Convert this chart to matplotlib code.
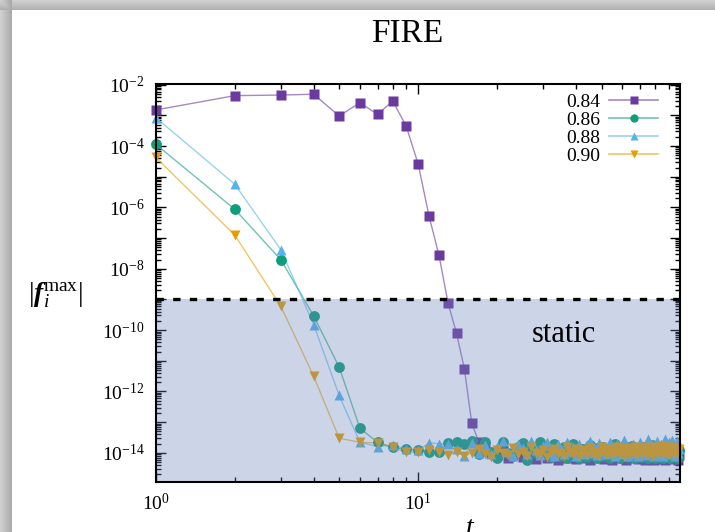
import numpy as np
import matplotlib
matplotlib.use("Agg")
import matplotlib.pyplot as plt
from matplotlib.ticker import FixedLocator, FuncFormatter, NullFormatter
from matplotlib.lines import Line2D
from matplotlib.legend_handler import HandlerTuple

plt.rcParams.update({
    "font.family": "Liberation Serif",
    "mathtext.fontset": "custom",
    "mathtext.rm": "Liberation Serif",
    "mathtext.it": "Liberation Serif:italic",
    "mathtext.bf": "Liberation Serif:italic:bold",
})

# ---------------------------------------------------------------------------
# data: |f_i^max| vs step t (t = 1, 2, 3, ...)
# ---------------------------------------------------------------------------
labels = ["0.84", "0.86", "0.88", "0.90"]

f084_head = [1.5e-3, 4.4e-3, 4.6e-3, 4.9e-3, 9.5e-4, 2.6e-3, 1.07e-3, 2.95e-3,
             4.5e-4, 2.6e-5, 5.2e-7, 2.8e-8, 7.6e-10, 7.9e-11, 5.5e-12,
             9.3e-14, 2.3e-14]
f086_head = [1.15e-4, 8.7e-7, 1.95e-8, 2.9e-10, 6.2e-12, 6.3e-14, 2.2e-14,
             1.5e-14, 1.3e-14, 1.25e-14, 1.1e-14, 1.1e-14, 2.1e-14]
f088_head = [8.5e-4, 5.7e-6, 4.1e-8, 1.5e-10, 7.4e-13, 2.2e-14, 1.6e-14,
             1.8e-14, 1.35e-14, 1.2e-14, 2.1e-14, 2.0e-14]
f090_head = [4.3e-5, 1.26e-7, 5.9e-10, 3.1e-12, 3.0e-14, 2.2e-14, 2.1e-14,
             1.5e-14, 1.05e-14, 1.05e-14, 1.2e-14, 1.05e-14, 0.86e-14]

# noisy plateau, in units of 1e-14
f084_tail = [1.6, 1.0, 0.85, 1.2, 0.7, 0.9, 1.3, 0.75, 0.8, 1.1, 0.65, 0.9,
             1.4, 0.7, 0.8, 1.0, 0.6, 1.2, 0.85, 0.7, 1.5, 0.9, 0.65, 0.8,
             1.1, 0.7, 1.3, 0.6, 0.9, 0.75, 1.0, 1.4, 0.7, 0.65, 0.95, 1.2,
             0.8, 0.6, 1.1, 0.75, 0.9, 1.3, 0.7, 0.85, 0.6, 1.0, 1.5, 0.8,
             0.7, 0.9, 1.2, 0.65, 0.8, 1.1, 0.75, 0.6, 0.95, 1.3, 0.7, 0.85,
             1.0, 0.6, 0.8, 1.4, 0.7, 0.9, 0.65, 1.1, 0.8, 0.6, 1.2, 0.75,
             0.9, 0.7, 1.0, 0.65, 1.3, 0.8, 0.7, 0.9, 0.6, 0.85]
f086_tail = [2.2, 1.9, 2.4, 0.9, 2.3, 1.1, 0.7, 2.2, 1.0, 0.8, 1.6, 2.1, 0.6,
             1.3, 1.0, 2.3, 0.9, 1.2, 0.75, 1.9, 1.1, 0.8, 1.5, 0.7, 1.0,
             2.0, 0.9, 0.7, 1.3, 1.1, 0.75, 1.8, 0.9, 1.2, 0.7, 1.0, 1.6,
             0.8, 0.9, 1.3, 0.7, 1.1, 2.0, 0.8, 1.0, 0.7, 1.4, 0.9, 1.2,
             0.75, 1.0, 1.7, 0.8, 0.7, 1.1, 1.3, 0.9, 0.75, 1.5, 0.8, 1.0,
             0.7, 1.2, 0.9, 1.8, 0.8, 0.7, 1.1, 1.0, 0.75, 1.4, 0.9, 0.7,
             1.2, 1.0, 0.8, 1.6, 0.7, 0.9, 1.1, 0.75, 1.3, 0.8, 1.0, 0.7, 1.2]
f088_tail = [1.9, 1.3, 0.8, 2.1, 1.0, 1.8, 0.9, 1.5, 2.4, 1.1, 0.8, 2.0, 1.4,
             0.9, 2.5, 1.2, 0.85, 1.7, 2.2, 1.0, 0.8, 1.9, 1.3, 0.9, 2.3,
             1.1, 1.6, 0.8, 2.0, 1.2, 0.9, 1.8, 2.4, 1.0, 1.4, 0.85, 2.1,
             1.1, 1.7, 0.9, 1.3, 2.2, 1.0, 0.8, 1.9, 1.2, 1.5, 0.9, 2.6,
             1.1, 0.8, 1.6, 1.3, 2.0, 0.9, 1.2, 0.8, 2.3, 1.4, 1.0, 1.7,
             0.85, 2.8, 1.2, 1.0, 1.9, 0.8, 1.4, 2.5, 1.1, 0.9, 2.0, 1.3,
             0.8, 2.9, 1.5, 1.0, 2.2, 0.9, 1.2, 2.7, 1.1, 0.8, 1.6, 2.4, 1.0, 1.3]
f090_tail = [1.1, 0.8, 1.0, 1.3, 0.9, 0.75, 1.2, 1.0, 0.85, 1.4, 0.9, 1.1,
             0.8, 1.5, 1.0, 0.9, 1.2, 0.75, 1.1, 1.3, 0.9, 1.0, 0.8, 1.6,
             1.1, 0.9, 1.3, 0.8, 1.0, 1.2, 0.85, 1.4, 1.0, 0.9, 1.1, 0.8,
             1.5, 1.2, 0.9, 1.0, 1.3, 0.85, 1.1, 1.6, 0.9, 1.0, 1.2, 0.8,
             1.4, 1.1, 0.9, 1.3, 1.0, 1.5, 0.85, 1.1, 1.2, 0.9, 1.4, 1.0,
             1.6, 0.9, 1.1, 1.3, 0.8, 1.2, 1.5, 1.0, 0.9, 1.4, 1.1, 1.7,
             0.9, 1.2, 1.0, 1.5, 0.85, 1.3, 1.1, 1.6, 0.9, 1.2, 1.4, 1.0, 1.1, 1.3]

static_thr = 1e-9

colors = ["#6b3a9e", "#109e7a", "#56b4e9", "#e69f00"]
markers = ["s", "o", "^", "v"]


def _series(head, tail):
    y = np.array(list(head) + [v * 1e-14 for v in tail])
    t = np.arange(1, len(y) + 1)
    return t, y


def _shadow(fig):
    # grey drop-shadow strip along the left and top edges
    h, w = 532, 715
    img = np.ones((h, w, 3))
    for i in range(12):
        img[:, i, :] = 0.82 - 0.014 * i
    for j in range(10):
        img[j, :, :] = np.minimum(img[j, :, :], 0.82 - 0.014 * j)
    bg = fig.add_axes([0, 0, 1, 1], zorder=-10)
    bg.imshow(img, aspect="auto", interpolation="bilinear")
    bg.set_axis_off()


def main():
    fig = plt.figure(figsize=(7.15, 5.32), dpi=100)
    _shadow(fig)
    ax = fig.add_axes([0.2178, 0.094, 0.7333, 0.748])
    ax.set_facecolor("white")

    data = [(f084_head, f084_tail), (f086_head, f086_tail),
            (f088_head, f088_tail), (f090_head, f090_tail)]
    handles = []
    for (head, tail), c, m in zip(data, colors, markers):
        t, y = _series(head, tail)
        ax.plot(t, y, "-", color=c, lw=1.0, alpha=0.6, zorder=2)
        ax.plot(t, y, ls="none", marker=m, ms=7.8, mec="none",
                color=c, zorder=3, clip_on=False)
        h1 = Line2D([], [], color=c, lw=1.2, alpha=0.6)
        h2 = Line2D([], [], ls="none", marker=m, ms=6, mec="none", color=c)
        handles.append((h1, h2))

    ax.set_xscale("log")
    ax.set_yscale("log")
    ax.set_xlim(1, 99.5)
    ax.set_ylim(1.12e-15, 1.05e-2)

    # static region: shaded over the data
    ax.axhspan(1e-16, static_thr, color="#6c84bc", alpha=0.34, lw=0, zorder=5)
    ax.axhline(static_thr, color="black", lw=2.4, ls=(0, (2.2, 2.8)), zorder=6)
    ax.text(36, 10 ** -10.15, "static", fontsize=22, ha="center", va="center",
            zorder=7)

    # ticks
    ax.xaxis.set_major_locator(FixedLocator([1, 10, 100]))
    ax.xaxis.set_minor_locator(FixedLocator(
        [k * d for d in (1, 10) for k in range(2, 10)]))
    ax.xaxis.set_major_formatter(FuncFormatter(
        lambda v, p: rf"$\mathregular{{10^{{{int(round(np.log10(v)))}}}}}$"))
    ax.xaxis.set_minor_formatter(NullFormatter())

    ax.yaxis.set_major_locator(FixedLocator([10.0 ** e for e in range(-15, -1)]))
    ax.yaxis.set_minor_locator(FixedLocator(
        [k * 10.0 ** e for e in range(-16, -1) for k in range(2, 10)]))

    def _yfmt(v, p):
        e = int(round(np.log10(v)))
        return rf"$\mathregular{{10^{{{e}}}}}$" if e % 2 == 0 else ""

    ax.yaxis.set_major_formatter(FuncFormatter(_yfmt))
    ax.yaxis.set_minor_formatter(NullFormatter())
    ax.tick_params(which="both", direction="in", top=True, right=True,
                   labelsize=14, width=1.0)
    ax.tick_params(which="major", length=7, pad=8)
    ax.tick_params(which="minor", length=3.5)
    for s in ax.spines.values():
        s.set_linewidth(1.5)
        s.set_zorder(10)

    leg = ax.legend(handles, labels, handler_map={tuple: HandlerTuple(ndivide=1)},
                    loc="upper right", bbox_to_anchor=(0.973, 0.997),
                    markerfirst=False, frameon=False, fontsize=14,
                    handlelength=2.5, handletextpad=0.5, labelspacing=0.03,
                    borderaxespad=0.0)
    leg.set_zorder(8)

    fig.text(407 / 715, 1 - 41.5 / 532, "FIRE", fontsize=24, ha="center",
             va="baseline")
    fig.text(55 / 715, 1 - 295 / 532, r"$|\mathbf{f}_i^{\mathrm{max}}|$",
             fontsize=20, ha="center", va="center")
    fig.text(470 / 715, 1 - 516 / 532, "t", fontsize=20, style="italic",
             ha="center", va="top")

    fig.savefig("out.png", dpi=100)
    plt.close(fig)


if __name__ == "__main__":
    main()
